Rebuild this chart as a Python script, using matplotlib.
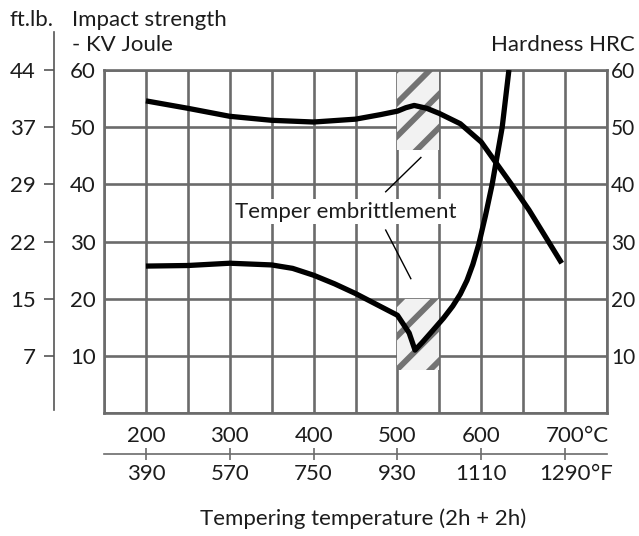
import matplotlib

matplotlib.use("Agg")

import matplotlib.pyplot as plt
from matplotlib.patches import Rectangle

# Hardness HRC vs tempering temperature (degC)
hardness_temp = [200, 250, 300, 350, 400, 450, 480, 500, 510, 520, 535, 550,
                 575, 600, 617, 636, 657, 678, 696]
hardness_hrc = [54.6, 53.3, 51.9, 51.2, 50.9, 51.4, 52.2, 52.8, 53.4, 53.8,
                53.3, 52.4, 50.6, 47.4, 43.9, 40.0, 35.5, 30.5, 26.2]

# Impact strength KV (Joule) vs tempering temperature (degC)
impact_temp = [200, 250, 300, 350, 375, 400, 425, 450, 475, 500, 514, 521,
               530, 542, 555, 566, 575, 583, 590, 597, 605, 613, 619, 625,
               629, 633]
impact_joule = [25.7, 25.8, 26.2, 25.9, 25.3, 24.1, 22.6, 20.9, 19.0, 17.1,
                14.0, 11.0, 12.4, 14.4, 16.6, 18.7, 20.8, 23.2, 26.0, 29.5,
                34.5, 40.0, 45.0, 50.0, 55.0, 60.0]

# temper embrittlement bands: (temp start, temp end, low, high)
embrittle_bands = [(500, 550, 46.0, 60.0), (500, 550, 7.5, 20.0)]
leader_upper = ([486, 528], [38.7, 44.7])
leader_lower = ([486, 516], [32.0, 23.5])

celsius_ticks = [200, 300, 400, 500, 600, 700]
fahrenheit_labels = ["390", "570", "750", "930", "1110", "1290"]
joule_ticks = [10, 20, 30, 40, 50, 60]
hrc_ticks = [10, 20, 30, 40, 50, 60]
ftlb_labels = ["7", "15", "22", "29", "37", "44"]

GRID = "#6b6b6b"
TEXT = "#1c1c1c"
FONT = "Lato"
FS = 16

plt.rcParams["font.family"] = [FONT, "DejaVu Sans"]
plt.rcParams["hatch.linewidth"] = 4.2

W, H = 639, 536
fig = plt.figure(figsize=(W / 100, H / 100), dpi=100)

ax_l, ax_r, ax_t, ax_b = 104, 607, 70, 413
ax_rect = [ax_l / W, 1 - ax_b / H, (ax_r - ax_l) / W, (ax_b - ax_t) / H]
ax = fig.add_axes(ax_rect)
ax.set_xlim(150, 750)
ax.set_ylim(0, 60)

for x in range(150, 751, 50):
    ax.axvline(x, color=GRID, lw=1.9, zorder=1)
for y in range(0, 61, 10):
    ax.axhline(y, color=GRID, lw=1.9, zorder=1)
for s in ax.spines.values():
    s.set_color(GRID)
    s.set_linewidth(1.9)

for t0, t1, lo, hi in embrittle_bands:
    ax.add_patch(Rectangle((t0, lo), t1 - t0, hi - lo, facecolor="#f2f2f2",
                           edgecolor="#737373", hatch="/", linewidth=0,
                           zorder=2))

ax.plot(hardness_temp, hardness_hrc, color="black", lw=3.8,
        solid_capstyle="butt", solid_joinstyle="round", zorder=4)
ax.plot(impact_temp, impact_joule, color="black", lw=3.8,
        solid_capstyle="butt", solid_joinstyle="round", zorder=4)

ax.plot(*leader_upper, color="black", lw=1.0, zorder=4)
ax.plot(*leader_lower, color="black", lw=1.0, zorder=4)
ax.text(438, 35.2, "Temper embrittlement", ha="center", va="center",
        fontsize=FS, color=TEXT, zorder=5,
        bbox=dict(facecolor="white", edgecolor="none", pad=2))

# Joule labels on the left
ax.set_yticks(joule_ticks)
ax.set_yticklabels([str(v) for v in joule_ticks])
ax.tick_params(axis="y", length=0, labelsize=FS, labelcolor=TEXT, pad=6)

# HRC labels on the right
ax_h = ax.twinx()
ax_h.set_ylim(ax.get_ylim())
ax_h.set_yticks(hrc_ticks)
ax_h.set_yticklabels([str(v) for v in hrc_ticks])
ax_h.tick_params(axis="y", length=0, labelsize=15, labelcolor=TEXT, pad=3)
for s in ax_h.spines.values():
    s.set_visible(False)

# degC labels
ax.set_xticks(celsius_ticks)
ax.set_xticklabels([str(v) for v in celsius_ticks])
ax.tick_params(axis="x", length=0, labelsize=FS, labelcolor=TEXT, pad=9)

# degF axis
loc = (ax_b - 454) / (ax_b - ax_t)
sec = ax.secondary_xaxis(loc)
sec.set_xticks(celsius_ticks)
sec.set_xticklabels(fahrenheit_labels)
sec.spines["bottom"].set_color(GRID)
sec.spines["bottom"].set_linewidth(1.2)
sec.tick_params(axis="x", direction="inout", length=8, width=1.2,
                color=GRID, labelsize=FS, labelcolor=TEXT, pad=3)

# ft.lb. axis on the far left
f_x, f_t, f_b = 54, 32, 410
ax_f = fig.add_axes([f_x / W, 1 - f_b / H, 0.001, (f_b - f_t) / H])
v_lo = (ax_b - f_b) / (ax_b - ax_t) * 60
v_hi = (ax_b - f_t) / (ax_b - ax_t) * 60
ax_f.set_ylim(v_lo, v_hi)
ax_f.patch.set_visible(False)
for side in ("top", "right", "bottom"):
    ax_f.spines[side].set_visible(False)
ax_f.spines["left"].set_color("#555555")
ax_f.spines["left"].set_linewidth(1.2)
ax_f.set_xticks([])
ax_f.set_yticks(joule_ticks)
ax_f.set_yticklabels(ftlb_labels)
ax_f.tick_params(axis="y", length=7, width=1.2, color="#555555",
                 labelsize=FS, labelcolor=TEXT, pad=6)

fig.text(10 / W, 1 - 20 / H, "ft.lb.", ha="left", va="center",
         fontsize=FS, color=TEXT)
fig.text(72 / W, 1 - 20 / H, "Impact strength", ha="left", va="center",
         fontsize=FS, color=TEXT)
fig.text(72 / W, 1 - 45 / H, "- KV Joule", ha="left", va="center",
         fontsize=FS, color=TEXT)
fig.text(635 / W, 1 - 45 / H, "Hardness HRC", ha="right", va="center",
         fontsize=FS, color=TEXT)
fig.text(363 / W, 1 - 519 / H, "Tempering temperature (2h + 2h)",
         ha="center", va="center", fontsize=FS, color=TEXT)

# unit suffixes right after the last tick labels
fig.canvas.draw()
renderer = fig.canvas.get_renderer()
for labels, unit in ((ax.get_xticklabels(), "°C"),
                     (sec.get_xticklabels(), "°F")):
    bb = labels[-1].get_window_extent(renderer)
    fig.text(bb.x1 / W, bb.y0 / H, unit, ha="left", va="bottom",
             fontsize=FS, color=TEXT)

fig.savefig("out.png", dpi=100)
plt.close(fig)
